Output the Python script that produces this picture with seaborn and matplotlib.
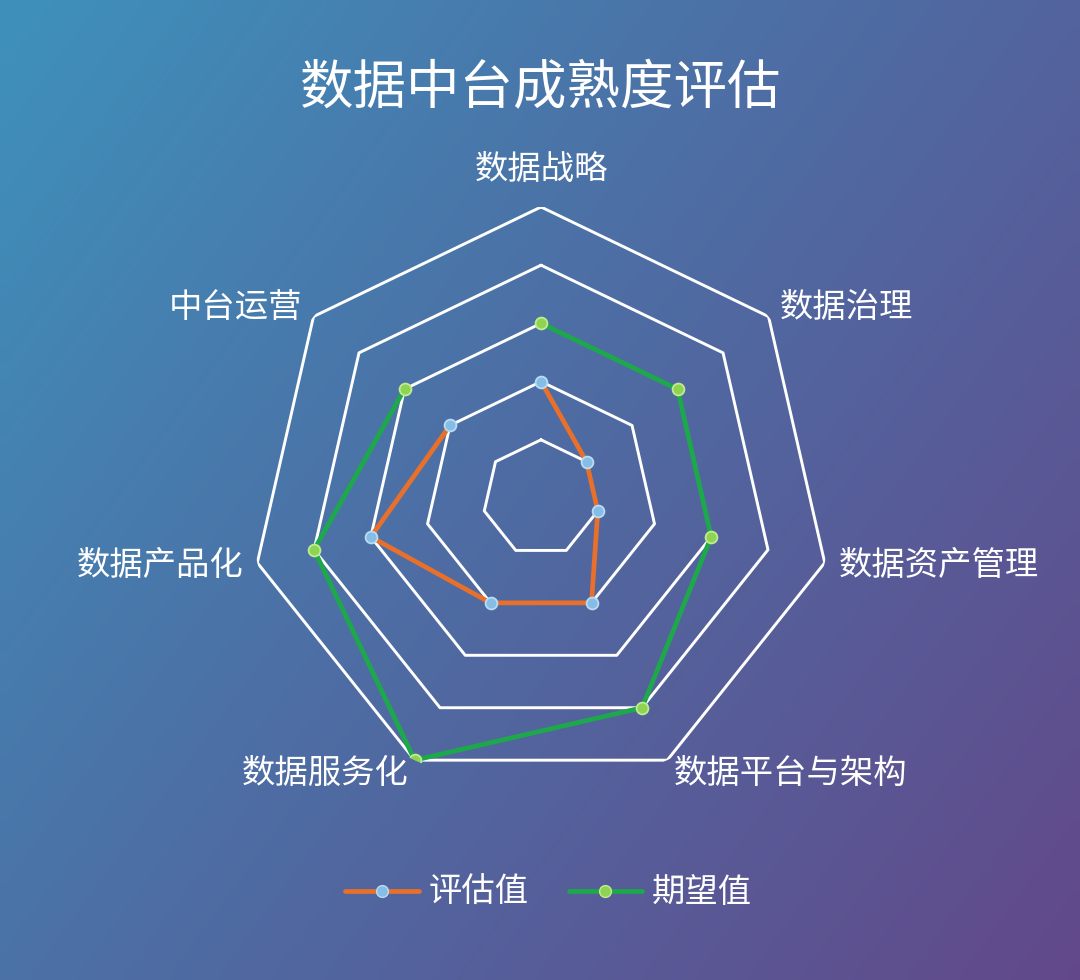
import numpy as np
import pandas as pd
import matplotlib
matplotlib.use("Agg")
import matplotlib.pyplot as plt
from matplotlib.lines import Line2D
import seaborn as sns

# chart data
categories = ['数据战略', '数据治理', '数据资产管理', '数据平台与架构',
              '数据服务化', '数据产品化', '中台运营']
assessed = [2, 1, 1, 2, 2, 3, 2]      # 评估值
expected = [3, 3, 3, 4, 5, 4, 3]      # 期望值
levels = [1, 2, 3, 4, 5]
series_names = ['评估值', '期望值']

sns.set_theme(style='white')
plt.rcParams['font.family'] = ['Noto Sans CJK SC', 'DejaVu Sans']

fig = plt.figure(figsize=(10.8, 9.8), dpi=100)

# gradient background (teal top-left -> purple bottom-right)
bg = fig.add_axes([0, 0, 1, 1])
bg.set_axis_off()
h, w = 98, 108
yy, xx = np.mgrid[0:h, 0:w]
t = (xx / w * 0.6 + yy / h * 0.4)
c0 = np.array([0x3e, 0x91, 0xbb]) / 255
c1 = np.array([0x4f, 0x6a, 0xa2]) / 255
c2 = np.array([0x63, 0x48, 0x8a]) / 255
tt = t[..., None]
img = np.where(tt < 0.5, c0 + (c1 - c0) * (tt / 0.5), c1 + (c2 - c1) * ((tt - 0.5) / 0.5))
bg.imshow(img, aspect='auto', extent=[0, 1, 0, 1], interpolation='bicubic')

ax = fig.add_axes([0.2315, 0.1949, 0.5389, 0.5939], projection='polar')
ax.set_facecolor('none')
ax.set_theta_zero_location('N')
ax.set_theta_direction(-1)
ax.set_ylim(0, 5)
ax.grid(False)
ax.spines['polar'].set_visible(False)

n = len(categories)
angles = np.linspace(0, 2 * np.pi, n, endpoint=False)
closed = np.append(angles, angles[0])

# heptagon rings
for lv in levels:
    ax.plot(closed, [lv] * (n + 1), color='white', lw=2.1, zorder=1)

df = pd.DataFrame({
    'theta': np.concatenate([closed, closed]),
    'value': assessed + assessed[:1] + expected + expected[:1],
    'series': [series_names[0]] * (n + 1) + [series_names[1]] * (n + 1),
})

styles = {
    '评估值': dict(color='#e8702a', mfc='#86bde6', mec='#b8dcf5'),
    '期望值': dict(color='#1ea84c', mfc='#8fd353', mec='#c0ec90'),
}
for name in series_names:
    st = styles[name]
    sns.lineplot(data=df[df['series'] == name], x='theta', y='value', sort=False,
                 ax=ax, color=st['color'], lw=3.4, marker='o', markersize=8.5,
                 markerfacecolor=st['mfc'], markeredgecolor=st['mec'],
                 markeredgewidth=1.3, zorder=3, legend=False)
ax.set_xlabel('')
ax.set_ylabel('')
ax.set_xticks([])
ax.set_yticks([])
ax.set_ylim(0, 5)

# category labels
for ang, lab in zip(angles, categories):
    if np.isclose(ang, 0):
        ax.text(ang, 5.64, lab, ha='center', va='center', color='white', fontsize=24)
    else:
        ha = 'left' if ang < np.pi else 'right'
        ax.text(ang, 5.25, lab, ha=ha, va='center', color='white', fontsize=24)

fig.text(0.501, 1 - 89 / 980, '数据中台成熟度评估', ha='center', va='center',
         color='white', fontsize=38.5)

handles = [Line2D([0], [0], color=styles[s]['color'], lw=3.4, marker='o', markersize=8.5,
                  markerfacecolor=styles[s]['mfc'], markeredgecolor=styles[s]['mec'])
           for s in series_names]
leg = fig.legend(handles, series_names, loc='center', bbox_to_anchor=(0.508, 0.089),
                 ncol=2, frameon=False, fontsize=24, handlelength=2.2,
                 columnspacing=1.2, handletextpad=0.3, labelcolor='white')

fig.savefig('out.png', dpi=100)
